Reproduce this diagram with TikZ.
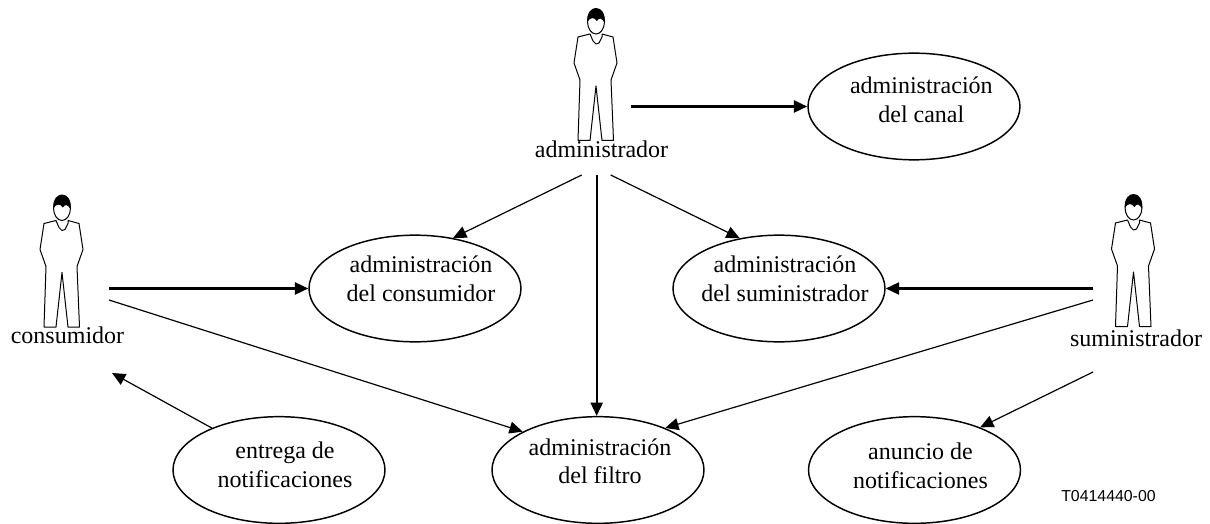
\documentclass[tikz,border=0pt]{standalone}
\usepackage{fontspec}
\setmainfont{Liberation Serif}
\setsansfont{Liberation Sans}
\usetikzlibrary{arrows.meta,shapes.geometric}
\newcommand{\tsh}{\hspace*{9pt}}
\newcommand{\dn}[1]{\rule[-#1pt]{0pt}{0pt}}
\tikzset{
  x=0.75pt,y=-0.75pt,
  uc/.style={draw,ellipse,line width=1.1pt,minimum width=159pt,minimum height=80pt,inner xsep=-45pt,inner ysep=-20pt,align=center,font=\fontsize{18}{21.5}\selectfont},
  actorlabel/.style={inner sep=0pt,anchor=base,font=\fontsize{18}{21}\selectfont},
  code/.style={inner sep=0pt,anchor=base west,font=\sffamily\fontsize{11.9}{14}\selectfont},
  conn/.style={line width=0.9pt,-{Triangle[length=10pt,width=9pt]}},
  connb/.style={line width=1.7pt,-{Triangle[length=10pt,width=9pt]}},
  actor/.pic={
    \draw[line width=0.75pt,line join=round] (-18,29) -- (-6,26) -- (-3,33) -- (0,36) -- (3,35) -- (6,29) -- (6,26) -- (17,29)
      -- (21,55) -- (15,72) -- (17.5,132.5) -- (6,132.5) -- (0,78) -- (-6,132.5) -- (-18,132.5) -- (-16,72) -- (-22,55) -- cycle;
    \draw[line width=0.75pt,fill=white] (0,13.5) ellipse (8.5 and 12.5);
    \fill (-8.6,14) .. controls (-9.5,4) and (-4,0) .. (0,0) .. controls (6,0) and (9.5,6) .. (8.6,15)
      .. controls (6,10) and (3,9) .. (1,13) .. controls (-2,9) and (-6,9) .. (-8.6,14) -- cycle;
  }
}
\begin{document}
\begin{tikzpicture}
\useasboundingbox (0,0) rectangle (1210,524);
\pic at (596,8) {actor};
\pic at (62,194.5) {actor};
\pic at (1133.5,194) {actor};
\node[actorlabel] (adm) at (601.5,158) {administrador};
\node[actorlabel] (con) at (67.5,343) {consumidor};
\node[actorlabel] (sum) at (1136,346) {suministrador};
\node[uc] (canal) at (914,106.5) {\hspace*{11pt}administración\\\hspace*{11pt}del canal\dn{10.5}};
\node[uc] (ucon) at (415,288.5) {\tsh administración\\\tsh del consumidor\dn{15}};
\node[uc] (usum) at (779,288.5) {\tsh administración\\\tsh del suministrador\dn{15}};
\node[uc] (ent) at (279,470) {\tsh entrega de\\\tsh notificaciones\dn{7.5}};
\node[uc] (fil) at (598,470) {\hspace*{3pt}administración\\\hspace*{3pt}del filtro\dn{13.5}};
\node[uc] (anu) at (914.5,470) {\tsh anuncio de\\\tsh notificaciones\dn{6}};
\node[code] (cod) at (1061,501.7) {T0414440-00};
\coordinate (a1) at (631,106.5);
\coordinate (a2) at (581.7,175);
\coordinate (a3) at (596.7,175);
\coordinate (a4) at (610.7,175);
\coordinate (c1) at (109,288.5);
\coordinate (c2) at (109,300);
\coordinate (c3) at (112,373);
\coordinate (s1) at (1093,288.5);
\coordinate (s2) at (1093,300);
\coordinate (s3) at (1093,372);
\draw[connb] (a1) -- (canal.west);
\draw[conn] (a2) -- (ucon.53);
\draw[connb] (a3) -- (a3 |- fil.north);
\draw[conn] (a4) -- (usum.128);
\draw[connb] (c1) -- (ucon.west);
\draw[conn] (c2) -- (fil.153.4);
\draw[conn] (ent.148) -- (c3);
\draw[connb] (s1) -- (usum.east);
\draw[conn] (s2) -- (fil.32.5);
\draw[conn] (s3) -- (anu.33.7);
\end{tikzpicture}
\end{document}
